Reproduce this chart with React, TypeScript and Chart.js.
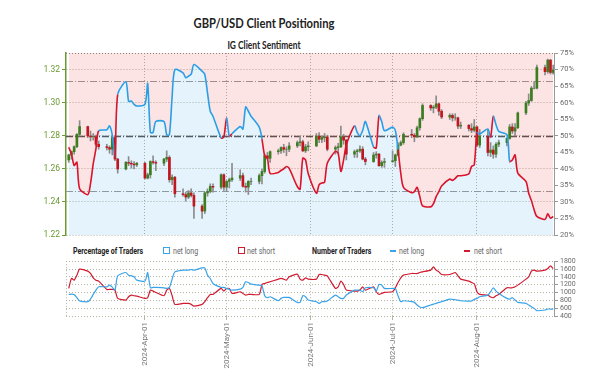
import React, { useEffect, useRef } from "react";
import { Chart, registerables } from "chart.js";
Chart.register(...registerables);

// ---------- categories ----------
const FIRST_TRADING_DAY = "2024-03-04";
const LAST_TRADING_DAY = "2024-08-29";
const AXIS_START = "2024-03-03";
const monthTickDates = ["2024-04-01", "2024-05-01", "2024-06-01", "2024-07-01", "2024-08-01"];
const monthTickLabels = ["2024-Apr-01", "2024-May-01", "2024-Jun-01", "2024-Jul-01", "2024-Aug-01"];
const priceTicks = [1.22, 1.24, 1.26, 1.28, 1.3, 1.32];
const pctTicks = [20, 25, 30, 35, 40, 45, 50, 55, 60, 65, 70, 75];
const countTicks = [400, 600, 800, 1000, 1200, 1400, 1600, 1800];
const sentimentLevels = [33.33, 50, 66.67];

// ---------- GBP/USD daily OHLC (one row per week) ----------
const open = [
  1.2655, 1.2685, 1.2705, 1.2735, 1.2810,
  1.2857, 1.2800, 1.2795, 1.2795, 1.2750,
  1.2735, 1.2730, 1.2720, 1.2790, 1.2660,
  1.2600, 1.2640, 1.2635, 1.2630, 1.2625,
  1.2635, 1.2545, 1.2565, 1.2645, 1.2640,
  1.2635, 1.2660, 1.2670, 1.2535, 1.2550,
  1.2450, 1.2445, 1.2430, 1.2455, 1.2440,
  1.2375, 1.2345, 1.2455, 1.2465, 1.2495,
  1.2490, 1.2565, 1.2490, 1.2525, 1.2535,
  1.2545, 1.2560, 1.2495, 1.2490, 1.2525,
  1.2525, 1.2560, 1.2585, 1.2680, 1.2665,
  1.2705, 1.2710, 1.2730, 1.2720, 1.2720,
  1.2740, 1.2760, 1.2765, 1.2710, 1.2735,
  1.2740, 1.2800, 1.2780, 1.2790, 1.2795,
  1.2720, 1.2730, 1.2735, 1.2795, 1.2775,
  1.2690, 1.2705, 1.2710, 1.2720, 1.2660,
  1.2645, 1.2685, 1.2690, 1.2620, 1.2640,
  1.2645, 1.2650, 1.2685, 1.2745, 1.2760,
  1.2810, 1.2805, 1.2795, 1.2850, 1.2905,
  1.2985, 1.2970, 1.2975, 1.2995, 1.2950,
  1.2915, 1.2925, 1.2910, 1.2910, 1.2860,
  1.2865, 1.2845, 1.2835, 1.2855, 1.2745,
  1.2800, 1.2700, 1.2715, 1.2690, 1.2750,
  1.2760, 1.2785, 1.2855, 1.2830, 1.2850,
  1.2940, 1.3000, 1.3015, 1.3090, 1.3090,
  1.3215, 1.3190, 1.3260, 1.3185,
];
const high = [
  1.2690, 1.2710, 1.2740, 1.2815, 1.2893,
  1.2860, 1.2830, 1.2815, 1.2805, 1.2770,
  1.2750, 1.2740, 1.2800, 1.2803, 1.2665,
  1.2645, 1.2675, 1.2650, 1.2645, 1.2640,
  1.2640, 1.2575, 1.2650, 1.2680, 1.2650,
  1.2665, 1.2710, 1.2680, 1.2565, 1.2555,
  1.2480, 1.2460, 1.2470, 1.2480, 1.2455,
  1.2385, 1.2460, 1.2480, 1.2510, 1.2510,
  1.2570, 1.2570, 1.2530, 1.2545, 1.2635,
  1.2595, 1.2575, 1.2515, 1.2530, 1.2545,
  1.2570, 1.2600, 1.2690, 1.2700, 1.2710,
  1.2720, 1.2735, 1.2750, 1.2735, 1.2760,
  1.2770, 1.2800, 1.2775, 1.2750, 1.2765,
  1.2815, 1.2820, 1.2800, 1.2815, 1.2805,
  1.2740, 1.2755, 1.2860, 1.2810, 1.2780,
  1.2715, 1.2720, 1.2740, 1.2735, 1.2670,
  1.2700, 1.2705, 1.2695, 1.2650, 1.2665,
  1.2710, 1.2690, 1.2760, 1.2770, 1.2820,
  1.2840, 1.2815, 1.2860, 1.2910, 1.2995,
  1.2990, 1.2985, 1.3044, 1.3000, 1.2960,
  1.2935, 1.2935, 1.2935, 1.2915, 1.2885,
  1.2870, 1.2875, 1.2900, 1.2860, 1.2840,
  1.2840, 1.2760, 1.2740, 1.2760, 1.2775,
  1.2790, 1.2870, 1.2875, 1.2875, 1.2945,
  1.3010, 1.3055, 1.3100, 1.3130, 1.3230,
  1.3230, 1.3266, 1.3265, 1.3230,
];
const low = [
  1.2640, 1.2660, 1.2690, 1.2730, 1.2800,
  1.2790, 1.2770, 1.2775, 1.2740, 1.2720,
  1.2715, 1.2695, 1.2685, 1.2650, 1.2575,
  1.2595, 1.2620, 1.2605, 1.2600, 1.2615,
  1.2540, 1.2540, 1.2545, 1.2630, 1.2590,
  1.2620, 1.2645, 1.2520, 1.2505, 1.2430,
  1.2435, 1.2405, 1.2420, 1.2430, 1.2300,
  1.2300, 1.2330, 1.2435, 1.2455, 1.2460,
  1.2480, 1.2470, 1.2465, 1.2485, 1.2525,
  1.2530, 1.2490, 1.2460, 1.2445, 1.2505,
  1.2510, 1.2510, 1.2575, 1.2660, 1.2640,
  1.2690, 1.2695, 1.2700, 1.2680, 1.2705,
  1.2730, 1.2740, 1.2705, 1.2700, 1.2710,
  1.2735, 1.2760, 1.2760, 1.2765, 1.2710,
  1.2690, 1.2695, 1.2730, 1.2750, 1.2655,
  1.2670, 1.2670, 1.2700, 1.2655, 1.2625,
  1.2640, 1.2665, 1.2615, 1.2610, 1.2610,
  1.2640, 1.2615, 1.2680, 1.2740, 1.2750,
  1.2790, 1.2765, 1.2790, 1.2835, 1.2895,
  1.2955, 1.2940, 1.2965, 1.2925, 1.2905,
  1.2900, 1.2890, 1.2895, 1.2845, 1.2845,
  1.2830, 1.2820, 1.2825, 1.2735, 1.2730,
  1.2680, 1.2675, 1.2665, 1.2670, 1.2735,
  1.2740, 1.2780, 1.2815, 1.2800, 1.2845,
  1.2930, 1.2985, 1.3010, 1.3085, 1.3085,
  1.3170, 1.3180, 1.3175, 1.3175,
];
const close = [
  1.2685, 1.2705, 1.2735, 1.2810, 1.2857,
  1.2800, 1.2795, 1.2795, 1.2750, 1.2735,
  1.2730, 1.2720, 1.2790, 1.2660, 1.2600,
  1.2640, 1.2635, 1.2630, 1.2625, 1.2635,
  1.2545, 1.2565, 1.2645, 1.2640, 1.2635,
  1.2660, 1.2670, 1.2535, 1.2550, 1.2450,
  1.2445, 1.2430, 1.2455, 1.2440, 1.2375,
  1.2345, 1.2455, 1.2465, 1.2495, 1.2490,
  1.2565, 1.2490, 1.2525, 1.2535, 1.2545,
  1.2560, 1.2495, 1.2490, 1.2525, 1.2525,
  1.2560, 1.2585, 1.2680, 1.2665, 1.2705,
  1.2710, 1.2730, 1.2720, 1.2720, 1.2740,
  1.2760, 1.2765, 1.2710, 1.2735, 1.2740,
  1.2800, 1.2780, 1.2790, 1.2795, 1.2720,
  1.2730, 1.2735, 1.2795, 1.2775, 1.2690,
  1.2705, 1.2710, 1.2720, 1.2660, 1.2645,
  1.2685, 1.2690, 1.2620, 1.2640, 1.2645,
  1.2650, 1.2685, 1.2745, 1.2760, 1.2810,
  1.2805, 1.2795, 1.2850, 1.2905, 1.2985,
  1.2970, 1.2975, 1.2995, 1.2950, 1.2915,
  1.2925, 1.2910, 1.2910, 1.2860, 1.2865,
  1.2845, 1.2835, 1.2855, 1.2745, 1.2800,
  1.2700, 1.2715, 1.2690, 1.2750, 1.2760,
  1.2785, 1.2855, 1.2830, 1.2850, 1.2940,
  1.3000, 1.3015, 1.3090, 1.3090, 1.3215,
  1.3190, 1.3260, 1.3185, 1.3200,
];

// ---------- IG client sentiment: % of traders net long ----------
const netLongPct = [
  46.5, 44.5, 41.0, 42.0, 34.0,
  32.2, 35.5, 41.5, 46.0, 51.5,
  51.8, 53.0, 50.2, 44.0, 62.5,
  66.3, 60.4, 60.5, 59.5, 59.0,
  59.5, 65.8, 51.0, 51.0, 54.3,
  54.3, 50.3, 50.3, 61.9, 70.0,
  69.0, 67.5, 68.0, 68.6, 71.5,
  69.5, 68.5, 62.9, 57.4, 55.9,
  49.3, 49.6, 55.4, 49.8, 50.6,
  52.8, 52.0, 58.7, 57.4, 55.9,
  52.6, 49.0, 43.9, 43.2, 38.6,
  38.9, 39.5, 40.0, 40.7, 40.1,
  34.6, 33.8, 43.2, 42.7, 38.5,
  32.6, 35.2, 35.7, 35.9, 41.7,
  45.3, 44.7, 39.2, 42.7, 47.3,
  53.0, 51.0, 50.0, 51.6, 54.3,
  46.6, 46.3, 56.1, 54.3, 51.5,
  52.6, 51.6, 45.8, 38.7, 34.4,
  32.8, 33.1, 34.4, 31.6, 28.8,
  28.5, 29.4, 31.6, 33.1, 34.8,
  36.9, 36.5, 37.1, 37.9, 37.9,
  38.5, 40.7, 41.2, 50.8, 50.5,
  52.0, 49.5, 55.9, 53.3, 51.3,
  50.3, 42.2, 42.7, 44.2, 38.7,
  36.2, 32.6, 30.4, 27.6, 25.6,
  24.7, 26.4, 25.1, 25.6,
];

// ---------- number of traders ----------
const longTraders = [
  951, 960, 951, 867, 782,
  765, 833, 951, 1062, 1146,
  1146, 1189, 1138, 1062, 1427,
  1511, 1443, 1427, 1401, 1316,
  1291, 1511, 1121, 1130, 1130,
  1121, 1104, 1130, 1342, 1528,
  1571, 1571, 1571, 1588, 1571,
  1630, 1630, 1443, 1359, 1231,
  1130, 1130, 1104, 1079, 1062,
  1087, 1130, 1274, 1257, 1214,
  1189, 1172, 918, 867, 892,
  790, 850, 875, 875, 875,
  748, 748, 918, 892, 807,
  765, 722, 765, 765, 782,
  934, 892, 850, 850, 934,
  1062, 1062, 1062, 1019, 1121,
  1121, 1036, 1206, 1189, 1104,
  1104, 1104, 917, 765, 790,
  765, 748, 680, 629, 612,
  680, 705, 722, 748, 765,
  833, 824, 816, 807, 790,
  782, 782, 824, 850, 892,
  934, 1019, 1121, 1036, 977,
  850, 833, 867, 807, 748,
  722, 680, 637, 595, 536,
  553, 578, 578, 578,
];
const shortTraders = [
  1104, 1359, 1316, 1443, 1596,
  1545, 1486, 1376, 1316, 1291,
  1079, 1079, 1079, 1062, 850,
  807, 892, 934, 918, 909,
  850, 867, 1062, 1036, 1002,
  918, 1062, 1104, 918, 697,
  722, 722, 722, 697, 654,
  697, 765, 867, 951, 951,
  1104, 1036, 1104, 1104, 977,
  1019, 977, 934, 951, 951,
  951, 1206, 1231, 1257, 1274,
  1342, 1359, 1342, 1316, 1401,
  1469, 1342, 1316, 1376, 1342,
  1342, 1460, 1460, 1443, 1427,
  1104, 1146, 1291, 1206, 1062,
  1036, 1036, 1062, 1146, 1062,
  1146, 1019, 951, 977, 1002,
  1019, 1121, 1257, 1376, 1443,
  1486, 1486, 1486, 1511, 1528,
  1571, 1655, 1571, 1528, 1460,
  1460, 1486, 1511, 1427, 1342,
  1291, 1257, 1223, 1019, 951,
  934, 884, 867, 917, 951,
  1121, 1121, 1121, 1146, 1189,
  1342, 1401, 1545, 1571, 1545,
  1571, 1613, 1681, 1613,
];

// ---------- helpers ----------
const ORIGIN = Date.parse("2024-03-01T00:00:00Z");
function dayOf(s: string): number {
  return (Date.parse(s + "T00:00:00Z") - ORIGIN) / 86400000;
}
function tradingDays(a: string, b: string): string[] {
  const out: string[] = [];
  const d = new Date(a + "T00:00:00Z");
  const e = new Date(b + "T00:00:00Z");
  while (d <= e) {
    const w = d.getUTCDay();
    if (w !== 0 && w !== 6) out.push(d.toISOString().slice(0, 10));
    d.setUTCDate(d.getUTCDate() + 1);
  }
  return out;
}

const AXIS_FONT = "Roboto, 'Liberation Sans', sans-serif";
const GREEN_AXIS = "#6b9a35";
const GRID = "#b4b4a4";
const LINE_BLUE = "#2b9fe6";
const LINE_RED = "#d9142b";

export default function App() {
  const topRef = useRef<HTMLCanvasElement>(null);
  const botRef = useRef<HTMLCanvasElement>(null);

  useEffect(() => {
    const days = tradingDays(FIRST_TRADING_DAY, LAST_TRADING_DAY).map(dayOf);
    const xMin = dayOf(AXIS_START);
    const xMax = dayOf(LAST_TRADING_DAY) + 0.3;
    const monthDays = monthTickDates.map(dayOf);
    const labelFor = (v: number) => {
      const i = monthDays.indexOf(v);
      return i >= 0 ? monthTickLabels[i] : "";
    };

    const wickData = days.map((x, i) => ({ x, y: [low[i], high[i]] }));
    const bodyData = days.map((x, i) => ({ x, y: [open[i], close[i]] }));
    const bodyColors = days.map((_, i) => (close[i] >= open[i] ? "#3b7d1f" : "#c0161f"));
    const sentData = days.map((x, i) => ({ x, y: netLongPct[i] }));
    const longData = days.map((x, i) => ({ x, y: longTraders[i] }));
    const shortData = days.map((x, i) => ({ x, y: shortTraders[i] }));

    const topDecor = {
      id: "topDecor",
      beforeDatasetsDraw(chart: any) {
        const { ctx, chartArea: a, scales } = chart;
        ctx.save();
        ctx.lineWidth = 1;
        ctx.strokeStyle = "#8a8a80";
        ctx.setLineDash([1, 2]);
        ctx.beginPath();
        ctx.moveTo(a.left, a.top + 0.5);
        ctx.lineTo(a.right, a.top + 0.5);
        ctx.stroke();
        sentimentLevels.forEach((v) => {
          const y = Math.round(scales.y1.getPixelForValue(v)) + 0.5;
          ctx.setLineDash([7, 2, 1, 2]);
          ctx.strokeStyle = v === 50 ? "#555555" : "#9a9a9a";
          ctx.lineWidth = v === 50 ? 1.3 : 1;
          ctx.beginPath();
          ctx.moveTo(a.left, y);
          ctx.lineTo(a.right, y);
          ctx.stroke();
        });
        ctx.restore();
      },
    };

    const c1 = new Chart(topRef.current as HTMLCanvasElement, {
      type: "bar",
      data: {
        datasets: [
          {
            type: "line",
            data: sentData,
            yAxisID: "y1",
            borderColor: "transparent",
            borderWidth: 0,
            pointRadius: 0,
            tension: 0.25,
            fill: "end",
            backgroundColor: "rgba(230,30,30,0.12)",
            order: 10,
          },
          {
            type: "line",
            data: sentData,
            yAxisID: "y1",
            borderColor: "transparent",
            borderWidth: 0,
            pointRadius: 0,
            tension: 0.25,
            fill: "start",
            backgroundColor: "rgba(30,150,230,0.116)",
            order: 9,
          },
          {
            type: "bar",
            data: wickData,
            yAxisID: "y",
            backgroundColor: "#8c8c8c",
            barThickness: 1,
            grouped: false,
            order: 3,
          },
          {
            type: "bar",
            data: bodyData,
            yAxisID: "y",
            backgroundColor: bodyColors,
            barThickness: 2,
            grouped: false,
            order: 2,
          },
          {
            type: "line",
            data: sentData,
            yAxisID: "y1",
            borderWidth: 1.6,
            pointRadius: 0,
            tension: 0.25,
            fill: false,
            borderColor: LINE_BLUE,
            segment: {
              borderColor: (ctx: any) => (ctx.p0.parsed.y < 50 ? LINE_RED : LINE_BLUE),
            },
            order: 1,
          },
        ] as any,
      },
      options: {
        responsive: false,
        animation: false,
        events: [],
        layout: { padding: { top: 8, bottom: 10, left: 0, right: 0 } },
        plugins: { legend: { display: false }, tooltip: { enabled: false } },
        scales: {
          x: {
            type: "linear",
            min: xMin,
            max: xMax,
            offset: false,
            grid: { offset: false, color: GRID, drawTicks: false },
            border: { display: false, dash: [1, 2] },
            ticks: { display: false, autoSkip: false },
            afterBuildTicks: (s: any) => {
              s.ticks = monthDays.map((v) => ({ value: v }));
            },
            afterFit: (s: any) => {
              s.height = 0;
            },
          },
          y: {
            type: "linear",
            position: "left",
            min: 1.22,
            max: 1.3303,
            afterBuildTicks: (s: any) => {
              s.ticks = priceTicks.map((v) => ({ value: v }));
            },
            ticks: {
              color: GREEN_AXIS,
              font: { size: 8.5, family: AXIS_FONT },
              padding: 2,
              autoSkip: false,
              callback: (v: any) => Number(v).toFixed(2),
            },
            grid: { color: GRID, tickColor: GREEN_AXIS, tickLength: 4 },
            border: { display: true, color: GREEN_AXIS, width: 1.5, dash: [1, 2] },
            afterFit: (s: any) => {
              s.width = 66;
            },
          },
          y1: {
            type: "linear",
            position: "right",
            min: 20,
            max: 75,
            afterBuildTicks: (s: any) => {
              s.ticks = pctTicks.map((v) => ({ value: v }));
            },
            ticks: {
              color: "#6a6a6a",
              font: { size: 7.5, family: AXIS_FONT },
              padding: 2,
              autoSkip: false,
              callback: (v: any) => v + "%",
            },
            grid: { drawOnChartArea: false, tickColor: "#999", tickLength: 4 },
            border: { display: true, color: "#999", width: 1 },
            afterFit: (s: any) => {
              s.width = 54;
            },
          },
        },
      } as any,
      plugins: [topDecor],
    });

    const botDecor = {
      id: "botDecor",
      beforeDatasetsDraw(chart: any) {
        const { ctx, chartArea: a } = chart;
        ctx.save();
        ctx.lineWidth = 1;
        ctx.strokeStyle = GRID;
        ctx.setLineDash([1, 2]);
        ctx.beginPath();
        ctx.moveTo(a.left + 0.5, a.top);
        ctx.lineTo(a.left + 0.5, a.bottom);
        ctx.stroke();
        ctx.restore();
      },
    };

    const c2 = new Chart(botRef.current as HTMLCanvasElement, {
      type: "line",
      data: {
        datasets: [
          {
            data: longData,
            borderColor: "#3aa3e8",
            borderWidth: 1.2,
            pointRadius: 0,
            tension: 0.2,
            fill: false,
            yAxisID: "y",
          },
          {
            data: shortData,
            borderColor: "#d01a2e",
            borderWidth: 1.2,
            pointRadius: 0,
            tension: 0.2,
            fill: false,
            yAxisID: "y",
          },
        ] as any,
      },
      options: {
        responsive: false,
        animation: false,
        events: [],
        layout: { padding: { top: 6, left: 66, right: 0, bottom: 0 } },
        plugins: { legend: { display: false }, tooltip: { enabled: false } },
        scales: {
          x: {
            type: "linear",
            min: xMin,
            max: xMax,
            grid: { color: GRID, tickColor: GRID, tickLength: 4 },
            border: { display: false, dash: [1, 2] },
            ticks: {
              autoSkip: false,
              minRotation: 90,
              maxRotation: 90,
              color: "#777",
              font: { size: 8, family: AXIS_FONT },
              padding: 2,
              callback: (v: any) => labelFor(Number(v)),
            },
            afterBuildTicks: (s: any) => {
              s.ticks = monthDays.map((v) => ({ value: v }));
            },
            afterFit: (s: any) => {
              s.height = 62;
            },
          },
          y: {
            type: "linear",
            position: "right",
            min: 400,
            max: 1800,
            afterBuildTicks: (s: any) => {
              s.ticks = countTicks.map((v) => ({ value: v }));
            },
            ticks: {
              color: "#6a6a6a",
              font: { size: 7, family: AXIS_FONT },
              padding: 2,
              autoSkip: false,
              callback: (v: any) => String(v),
            },
            grid: { color: GRID, tickColor: "#999", tickLength: 4 },
            border: { display: true, color: "#999", width: 1, dash: [1, 2] },
            afterFit: (s: any) => {
              s.width = 54;
            },
          },
        },
      } as any,
      plugins: [botDecor],
    });

    return () => {
      c1.destroy();
      c2.destroy();
    };
  }, []);

  const legendText: React.CSSProperties = {
    position: "absolute",
    top: 245,
    fontFamily: AXIS_FONT,
    fontSize: 9,
    lineHeight: "12px",
    whiteSpace: "nowrap",
    transform: "scaleX(0.78)",
    transformOrigin: "left center",
  };
  const box = (left: number, color: string): React.CSSProperties => ({
    position: "absolute",
    left,
    top: 247,
    width: 5,
    height: 5,
    border: `1.5px solid ${color}`,
  });
  const dash = (left: number, color: string): React.CSSProperties => ({
    position: "absolute",
    left,
    top: 250,
    width: 6,
    height: 1.5,
    background: color,
  });
  const titleStyle: React.CSSProperties = {
    position: "absolute",
    left: 0,
    width: 528,
    textAlign: "center",
    fontFamily: "Lato, sans-serif",
    fontWeight: 700,
    color: "#222",
    transform: "scaleX(0.8)",
    transformOrigin: "264px center",
    whiteSpace: "nowrap",
  };

  return (
    <div
      style={{
        position: "fixed",
        left: 0,
        top: 0,
        width: 608,
        height: 378,
        background: "#fff",
        overflow: "hidden",
      }}
    >
      <div style={{ ...titleStyle, top: 14, fontSize: 14, lineHeight: "18px" }}>
        GBP/USD Client Positioning
      </div>
      <div style={{ ...titleStyle, top: 39, fontSize: 10.5, lineHeight: "13px" }}>
        IG Client Sentiment
      </div>
      <canvas
        ref={topRef}
        width={608}
        height={200}
        style={{ position: "absolute", left: 0, top: 45, width: 608, height: 200 }}
      />
      <div style={{ ...legendText, left: 73, fontWeight: 700, color: "#222" }}>Percentage of Traders</div>
      <div style={box(163, "#3aa3e8")} />
      <div style={{ ...legendText, left: 173, color: "#666" }}>net long</div>
      <div style={box(238, "#d01a2e")} />
      <div style={{ ...legendText, left: 247, color: "#666" }}>net short</div>
      <div style={{ ...legendText, left: 312, fontWeight: 700, color: "#222" }}>Number of Traders</div>
      <div style={dash(390, "#3aa3e8")} />
      <div style={{ ...legendText, left: 399, color: "#666" }}>net long</div>
      <div style={dash(464, "#d01a2e")} />
      <div style={{ ...legendText, left: 474, color: "#666" }}>net short</div>
      <canvas
        ref={botRef}
        width={608}
        height={123}
        style={{ position: "absolute", left: 0, top: 255, width: 608, height: 123 }}
      />
    </div>
  );
}
